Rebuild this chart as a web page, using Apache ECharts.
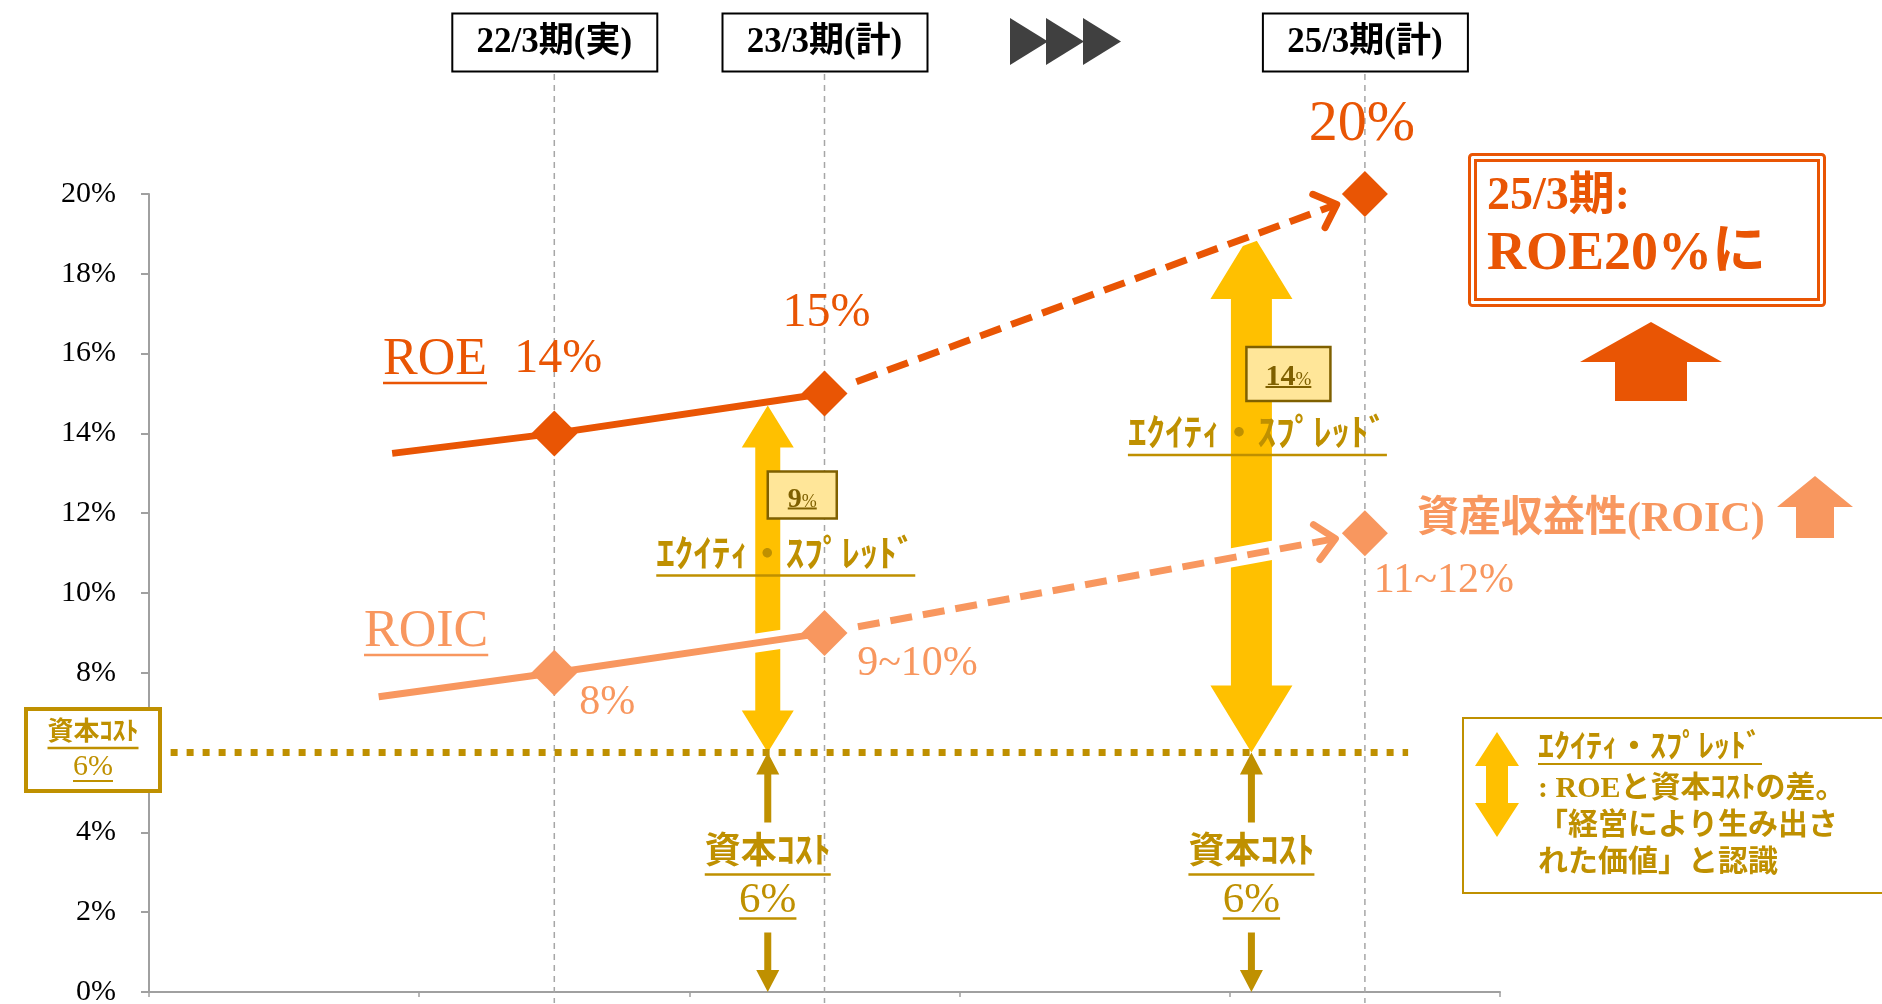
<!DOCTYPE html>
<html>
<head>
<meta charset="utf-8">
<script src="https://cdn.jsdelivr.net/npm/echarts@6/dist/echarts.min.js"></script>
<style>
  html, body { margin: 0; background: #fff; }
  #chart { width: 1882px; height: 1004px; }
</style>
</head>
<body>
<div id="chart"></div>
<script>
// ---- data ----
const periods = ['22/3期(実)', '23/3期(計)', '25/3期(計)'];
const periodX = [1.5, 2.5, 4.5];
const roe = [14, 15, 20];
const roic = [8, 9, 11.5];
const roeLabels = ['14%', '15%', '20%'];
const roicLabels = ['8%', '9~10%', '11~12%'];
const roeLead = [0.9, 13.5];     // where the drawn ROE line starts
const roicLead = [0.85, 7.4];    // where the drawn ROIC line starts
const costOfCapital = 6;
const costLineX = [0.08, 4.66];
const spreadX = [2.29, 4.08];
const spreadTop = [14.7, 19.05];
const spreadValues = [9, 14];

// ---- styles ----
const C = {
  roe: '#E95504', roic: '#F8975F', yellow: '#FFC000', gold: '#BF9000',
  darkGold: '#7F6000', pale: '#FFE699', guide: '#A6A6A6', axis: '#A0A0A0'
};
const FONT = '"Liberation Serif", "Noto Sans CJK JP", serif';
const SPREAD = 'ｴｸｲﾃｨ・ｽﾌﾟﾚｯﾄﾞ';
const roeLabelOffset = [[4, -74], [2, -80], [-3, -69]];
const roeLabelSize = [48, 48, 58];
const roicLabelOffset = [[53, 30], [93, 31], [79, 48]];
const spreadStyle = [
  { shaft: 25, headW: 52, headH: 42, box: [0, 66, 69, 47], ul: 36, num: 28, pct: 18, text: [18, 152] },
  { shaft: 41, headW: 82, headH: 67, box: [-5, 115, 84, 54], ul: 39, num: 30, pct: 19, text: [6, 205] }
];

const measureCtx = document.createElement('canvas').getContext('2d');
function measure(text, size, weight) {
  measureCtx.font = (weight || 'normal') + ' ' + size + 'px ' + FONT;
  return measureCtx.measureText(text).width;
}

function txt(text, x, y, size, color, o) {
  o = o || {};
  return {
    type: 'text', x: x, y: y, z2: 10,
    style: {
      text: text, fontSize: size, fontFamily: FONT, fontWeight: o.weight || 'normal', fill: color,
      align: o.align || 'center', verticalAlign: o.valign || 'middle',
      textAlign: o.align || 'center', textVerticalAlign: o.valign || 'middle'
    }
  };
}

// text plus an underline at y + ul
function uText(text, x, y, size, color, o) {
  o = o || {};
  const w = measure(text, size, o.weight);
  const align = o.align || 'center';
  const x0 = align === 'left' ? x : x - w / 2;
  return [
    txt(text, x, y, size, color, o),
    { type: 'line', z2: 10, shape: { x1: x0, y1: y + o.ul, x2: x0 + w, y2: y + o.ul },
      style: { stroke: color, lineWidth: o.lw || 2.5 } }
  ];
}

function arrowUp(cx, top, bottom, headW, headH, shaft) {
  const hw = headW / 2, sw = shaft / 2;
  return [[cx, top], [cx + hw, top + headH], [cx + sw, top + headH], [cx + sw, bottom],
          [cx - sw, bottom], [cx - sw, top + headH], [cx - hw, top + headH]];
}

function doubleArrow(x, yT, yB, headW, headH, shaft) {
  const hw = headW / 2, sw = shaft / 2, hh = headH;
  return [[x, yT], [x + hw, yT + hh], [x + sw, yT + hh], [x + sw, yB - hh], [x + hw, yB - hh],
          [x, yB], [x - hw, yB - hh], [x - sw, yB - hh], [x - sw, yT + hh], [x - hw, yT + hh]];
}

// graphic groups do not pass z to children, so set it everywhere
function onTop(el) {
  el.z = 100;
  if (el.children) el.children.forEach(onTop);
  return el;
}

// ---- custom renderers ----
function renderPeriod(params, api) {
  const x = api.coord([api.value(0), 0])[0];
  return {
    type: 'group',
    children: [
      { type: 'line', shape: { x1: x, y1: 74, x2: x, y2: 1003 },
        style: { stroke: C.guide, lineWidth: 1.5, lineDash: [6, 5] } },
      { type: 'rect', shape: { x: x - 102, y: 13.5, width: 205, height: 58 },
        style: { fill: '#fff', stroke: '#000', lineWidth: 2 } },
      txt(periods[params.dataIndex], x, 43, 35, '#000', { weight: 'bold' })
    ]
  };
}

function renderSpread(params, api) {
  const i = params.dataIndex, s = spreadStyle[i];
  const x = api.coord([api.value(0), 0])[0];
  const yT = api.coord([0, api.value(1)])[1];
  const yB = api.coord([0, costOfCapital])[1];
  const bx = x + s.box[0], by = yT + s.box[1], bw = s.box[2], bh = s.box[3];
  const num = String(spreadValues[i]);
  const wN = measure(num, s.num, 'bold'), wP = measure('%', s.pct);
  const sx = bx + bw / 2 - (wN + wP) / 2, base = by + s.ul;
  const tx = x + s.text[0], ty = yT + s.text[1];
  return {
    type: 'group',
    children: [
      { type: 'polygon', shape: { points: doubleArrow(x, yT, yB, s.headW, s.headH, s.shaft) },
        style: { fill: C.yellow } },
      { type: 'rect', shape: { x: bx, y: by, width: bw, height: bh },
        style: { fill: C.pale, stroke: C.darkGold, lineWidth: 2.5 } },
      txt(num, sx, base + 6, s.num, C.darkGold, { weight: 'bold', align: 'left', valign: 'bottom' }),
      txt('%', sx + wN, base + 4, s.pct, C.darkGold, { align: 'left', valign: 'bottom' }),
      { type: 'line', shape: { x1: sx, y1: base + 1, x2: sx + wN + wP, y2: base + 1 },
        style: { stroke: C.darkGold, lineWidth: 2 } }
    ].concat(uText(SPREAD, tx, ty, 37, C.gold, { weight: 'bold', ul: 18 }))
  };
}

function renderCostLine(params, api) {
  const p0 = api.coord([api.value(0), api.value(1)]);
  const p1 = api.coord([api.value(2), api.value(1)]);
  return {
    type: 'line', shape: { x1: p0[0], y1: p0[1], x2: p1[0], y2: p1[1] },
    style: { stroke: C.gold, lineWidth: 7, lineDash: [7, 9], lineCap: 'butt' }
  };
}

function renderCostArrows(params, api) {
  const x = api.coord([api.value(0), 0])[0];
  const y6 = api.coord([0, costOfCapital])[1];
  const y0 = api.coord([0, 0])[1];
  const down = arrowUp(x, -y0, -(y6 + 180), 23, 22, 7).map(p => [p[0], -p[1]]);
  return {
    type: 'group',
    children: [
      { type: 'polygon', shape: { points: arrowUp(x, y6, y6 + 70, 23, 22, 7) }, style: { fill: C.gold } },
      { type: 'polygon', shape: { points: down }, style: { fill: C.gold } }
    ].concat(
      uText('資本ｺｽﾄ', x, y6 + 101, 36, C.gold, { weight: 'bold', ul: 21 }),
      uText(costOfCapital + '%', x, y6 + 148, 43, C.gold, { ul: 18 })
    )
  };
}

function renderForecast(params, api) {
  const p0 = api.coord([api.value(0), api.value(1)]);
  const p1 = api.coord([api.value(2), api.value(3)]);
  const color = params.dataIndex === 0 ? C.roe : C.roic;
  const dx = p1[0] - p0[0], dy = p1[1] - p0[1], len = Math.hypot(dx, dy);
  const ux = dx / len, uy = dy / len;
  const a = [p0[0] + ux * 34, p0[1] + uy * 34];
  const b = [p1[0] - ux * 30, p1[1] - uy * 30];
  const arm = ang => {
    const c = Math.cos(ang), s = Math.sin(ang);
    return [b[0] - 26 * (ux * c - uy * s), b[1] - 26 * (ux * s + uy * c)];
  };
  return {
    type: 'group',
    children: [
      { type: 'line', shape: { x1: a[0], y1: a[1], x2: b[0], y2: b[1] },
        style: { stroke: '#fff', lineWidth: params.dataIndex === 0 ? 13 : 19 } },
      { type: 'line', shape: { x1: a[0], y1: a[1], x2: b[0], y2: b[1] },
        style: { stroke: color, lineWidth: 7, lineDash: [22, 11] } },
      { type: 'polyline', shape: { points: [arm(0.75), b, arm(-0.75)] },
        style: { stroke: color, fill: 'none', lineWidth: 7, lineJoin: 'round', lineCap: 'round' } }
    ]
  };
}

// ---- fixed annotations ----
const legendLines = [': ROEと資本ｺｽﾄの差。', '「経営により生み出さ', 'れた価値」と認識'];

const graphics = [
  // ▶▶▶
  { type: 'group', children: [1010, 1046, 1083].map(x => ({
      type: 'polygon', shape: { points: [[x, 18], [x + 38, 41.5], [x, 65]] }, style: { fill: '#404040' } })) },
  // series names
  { type: 'group', children: [].concat(
      uText('ROE', 383, 360, 52, C.roe, { align: 'left', ul: 23 }),
      uText('ROIC', 364, 632, 52, C.roic, { align: 'left', ul: 23 })
  ) },
  // 25/3 target box
  { type: 'group', children: [
      { type: 'rect', shape: { x: 1469.5, y: 154.5, width: 355, height: 151, r: 3 },
        style: { fill: '#fff', stroke: C.roe, lineWidth: 3 } },
      { type: 'rect', shape: { x: 1475.5, y: 160.5, width: 343, height: 139 },
        style: { fill: 'none', stroke: C.roe, lineWidth: 3 } },
      txt('25/3期:', 1487, 197, 46, C.roe, { weight: 'bold', align: 'left' }),
      txt('ROE20%に', 1487, 255, 54, C.roe, { weight: 'bold', align: 'left' }),
      { type: 'polygon', shape: { points: arrowUp(1651, 322, 401, 142, 40, 72) }, style: { fill: C.roe } }
  ] },
  // ROIC note
  { type: 'group', children: [
      txt('資産収益性(ROIC)', 1417, 520, 42, C.roic, { weight: 'bold', align: 'left' }),
      { type: 'polygon', shape: { points: arrowUp(1815, 476, 538, 76, 31, 38) }, style: { fill: C.roic } }
  ] },
  // cost of capital box on the axis
  { type: 'group', children: [
      { type: 'rect', shape: { x: 26, y: 709, width: 134, height: 82 },
        style: { fill: '#fff', stroke: C.gold, lineWidth: 4 } }
    ].concat(
      uText('資本ｺｽﾄ', 93, 733, 26, C.gold, { weight: 'bold', ul: 15 }),
      uText('6%', 93, 767, 30, C.gold, { ul: 14, lw: 2 })
  ) },
  // explanation box
  { type: 'group', children: [
      { type: 'rect', shape: { x: 1463, y: 718, width: 440, height: 175 },
        style: { fill: '#fff', stroke: C.gold, lineWidth: 2 } },
      { type: 'polygon', shape: { points: doubleArrow(1497, 732, 837, 44, 34, 22) }, style: { fill: C.yellow } }
    ].concat(
      uText(SPREAD, 1538, 749, 32, C.gold, { weight: 'bold', align: 'left', ul: 15, lw: 2 }),
      legendLines.map((t, i) => txt(t, 1538, 789 + i * 37, 30, C.gold, { weight: 'bold', align: 'left' }))
  ) }
].map(onTop);

const chart = echarts.init(document.getElementById('chart'));
chart.setOption({
  animation: false,
  backgroundColor: '#fff',
  grid: { left: 149, right: 382, top: 194, bottom: 12, containLabel: false, outerBoundsMode: 'none' },
  xAxis: {
    type: 'value', min: 0, max: 5, interval: 1, z: 0,
    axisLabel: { show: false },
    axisTick: { show: true, length: 5, lineStyle: { color: C.axis, width: 1.5 } },
    axisLine: { show: true, onZero: false, lineStyle: { color: C.axis, width: 2 } },
    splitLine: { show: false }
  },
  yAxis: {
    type: 'value', min: 0, max: 20, interval: 2, z: 0,
    axisLabel: { formatter: '{value}%', fontSize: 30, fontFamily: 'Liberation Serif', color: '#000', margin: 33 },
    axisTick: { show: true, length: 8, lineStyle: { color: C.axis, width: 2 } },
    axisLine: { show: true, lineStyle: { color: C.axis, width: 2 } },
    splitLine: { show: false }
  },
  series: [
    { type: 'custom', name: 'periods', z: 1, clip: false, silent: true,
      data: periodX.map(x => [x, 0]), renderItem: renderPeriod },
    { type: 'custom', name: 'spread', z: 2, clip: false, silent: true,
      data: spreadX.map((x, i) => [x, spreadTop[i]]), renderItem: renderSpread },
    { type: 'custom', name: 'costLine', z: 3, clip: false, silent: true,
      data: [[costLineX[0], costOfCapital, costLineX[1]]], renderItem: renderCostLine },
    { type: 'custom', name: 'costArrows', z: 3, clip: false, silent: true,
      data: spreadX.map(x => [x, costOfCapital]), renderItem: renderCostArrows },
    { type: 'line', name: 'roicHalo', z: 4, silent: true, symbol: 'none',
      data: [roicLead, [periodX[0], roic[0]], [periodX[1], roic[1]]],
      lineStyle: { color: '#fff', width: 19 } },
    { type: 'line', name: 'ROE', z: 5, silent: true, symbol: 'none',
      data: [roeLead, [periodX[0], roe[0]], [periodX[1], roe[1]]],
      lineStyle: { color: C.roe, width: 7 } },
    { type: 'line', name: 'ROIC', z: 5, silent: true, symbol: 'none',
      data: [roicLead, [periodX[0], roic[0]], [periodX[1], roic[1]]],
      lineStyle: { color: C.roic, width: 7 } },
    { type: 'custom', name: 'forecast', z: 5, clip: false, silent: true,
      data: [[periodX[1], roe[1], periodX[2], roe[2]], [periodX[1], roic[1], periodX[2], roic[2]]],
      renderItem: renderForecast },
    { type: 'scatter', name: 'ROE points', z: 6, silent: true, symbol: 'diamond', symbolSize: 46,
      itemStyle: { color: C.roe, opacity: 1 },
      label: { show: true, position: 'inside', formatter: p => roeLabels[p.dataIndex],
               color: C.roe, fontFamily: 'Liberation Serif', fontSize: 48 },
      data: periodX.map((x, i) => ({ value: [x, roe[i]],
        label: { offset: roeLabelOffset[i], fontSize: roeLabelSize[i] } })) },
    { type: 'scatter', name: 'ROIC points', z: 6, silent: true, symbol: 'diamond', symbolSize: 46,
      itemStyle: { color: C.roic, opacity: 1 },
      label: { show: true, position: 'inside', formatter: p => roicLabels[p.dataIndex],
               color: C.roic, fontFamily: 'Liberation Serif', fontSize: 42 },
      data: periodX.map((x, i) => ({ value: [x, roic[i]], label: { offset: roicLabelOffset[i] } })) }
  ],
  graphic: { elements: graphics }
});
</script>
</body>
</html>
